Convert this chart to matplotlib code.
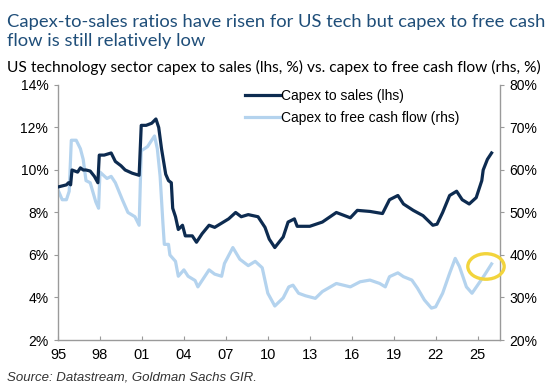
import matplotlib.pyplot as plt
from matplotlib.patches import Ellipse

# Datos (año decimal, %)
anios_ventas = [1995.0, 1995.3, 1995.6, 1995.75, 1995.9, 1996.0, 1996.4, 1996.6, 1996.8, 1997.0,
                1997.3, 1997.6, 1997.85, 1997.95, 1998.3, 1998.8, 1999.1, 1999.5, 1999.8, 2000.3,
                2000.8, 2000.95, 2001.3, 2001.7, 2002.0, 2002.2, 2002.4, 2002.7, 2002.9, 2003.1,
                2003.2, 2003.4, 2003.6, 2003.9, 2004.1, 2004.6, 2004.9, 2005.3, 2005.8, 2006.2,
                2006.7, 2007.2, 2007.7, 2008.1, 2008.6, 2009.3, 2009.8, 2010.1, 2010.5, 2011.1,
                2011.45, 2011.9, 2012.1, 2013.0, 2013.9, 2014.9, 2015.9, 2016.4, 2017.3, 2018.2,
                2018.7, 2019.3, 2019.7, 2020.4, 2021.1, 2021.8, 2022.1, 2022.5, 2023.0, 2023.5,
                2023.9, 2024.4, 2024.9, 2025.3, 2025.4, 2025.7, 2026.0]
capex_ventas = [9.2, 9.25, 9.3, 9.4, 9.3, 10.0, 9.9, 10.1, 10.0, 10.0,
                9.95, 9.7, 9.4, 10.7, 10.7, 10.8, 10.4, 10.2, 10.0, 9.85,
                9.75, 12.1, 12.1, 12.2, 12.4, 12.0, 11.0, 9.8, 9.5, 9.4,
                8.2, 7.8, 7.2, 7.4, 6.9, 6.9, 6.6, 7.0, 7.4, 7.3,
                7.5, 7.7, 8.0, 7.8, 7.9, 7.8, 7.3, 6.75, 6.35, 6.85,
                7.55, 7.7, 7.35, 7.35, 7.55, 8.0, 7.75, 8.1, 8.05, 7.95,
                8.6, 8.8, 8.4, 8.1, 7.85, 7.4, 7.45, 8.0, 8.8, 9.0,
                8.6, 8.4, 8.7, 9.5, 10.0, 10.5, 10.8]

anios_fcf = [1995.0, 1995.3, 1995.6, 1995.8, 1995.95, 1996.3, 1996.6, 1996.8, 1997.0, 1997.3,
             1997.7, 1997.9, 1998.0, 1998.5, 1998.8, 1999.1, 1999.6, 2000.0, 2000.5, 2000.8,
             2000.95, 2001.4, 2001.9, 2002.1, 2002.3, 2002.5, 2002.6, 2002.9, 2003.0, 2003.4,
             2003.6, 2004.0, 2004.3, 2004.8, 2005.0, 2005.4, 2005.8, 2006.2, 2006.7, 2006.9,
             2007.5, 2008.0, 2008.6, 2009.1, 2009.6, 2010.0, 2010.5, 2011.1, 2011.5, 2011.8,
             2012.2, 2012.7, 2013.4, 2013.9, 2014.9, 2015.9, 2016.6, 2017.3, 2018.0, 2018.4,
             2018.7, 2019.3, 2019.7, 2020.3, 2020.7, 2021.2, 2021.7, 2022.0, 2022.5, 2023.0,
             2023.4, 2023.7, 2024.2, 2024.6, 2025.0, 2025.5, 2026.0]
capex_fcf = [55.3, 53.0, 53.0, 55.0, 67.0, 67.0, 65.0, 62.5, 57.5, 57.0,
             52.5, 51.0, 59.5, 58.0, 58.5, 57.0, 53.0, 50.0, 49.0, 47.0,
             64.5, 65.5, 68.0, 65.0, 58.5, 47.5, 42.5, 42.5, 40.0, 38.5,
             35.0, 36.5, 35.0, 34.0, 32.5, 34.5, 36.5, 35.5, 35.0, 38.0,
             41.75, 39.0, 37.5, 38.5, 37.0, 31.0, 28.0, 29.9, 32.5, 32.9,
             31.0, 30.4, 29.8, 31.4, 33.3, 32.5, 33.7, 34.1, 33.3, 32.5,
             34.9, 35.8, 34.9, 34.1, 32.2, 29.4, 27.5, 27.8, 31.0, 35.7,
             39.2, 37.3, 32.5, 31.0, 32.9, 35.3, 37.9]

ticks_anios = [1995, 1998, 2001, 2004, 2007, 2010, 2013, 2016, 2019, 2022, 2025]
etiquetas_anios = ['95', '98', '01', '04', '07', '10', '13', '16', '19', '22', '25']

azul_oscuro = '#0d2b50'
azul_claro = '#b4d3ee'
gris = '#9a9a9a'

plt.rcParams['font.family'] = ['Liberation Sans', 'DejaVu Sans']

fig = plt.figure(figsize=(5.51, 3.88), dpi=100)
ax = fig.add_axes([0.1053, 0.1237, 0.8021, 0.6573])
ax2 = ax.twinx()

ax.plot(anios_ventas, capex_ventas, color=azul_oscuro, linewidth=2.3, zorder=3,
        label='Capex to sales (lhs)')
ax2.plot(anios_fcf, capex_fcf, color=azul_claro, linewidth=2.3,
         label='Capex to free cash flow (rhs)')
ax.set_zorder(ax2.get_zorder() + 1)
ax.patch.set_visible(False)

ax.set_xlim(1995, 2026.6)
ax.set_ylim(2, 14)
ax2.set_ylim(20, 80)
ax.set_yticks(range(2, 15, 2))
ax.set_yticklabels([f'{v}%' for v in range(2, 15, 2)])
ax2.set_yticks(range(20, 81, 10))
ax2.set_yticklabels([f'{v}%' for v in range(20, 81, 10)])
ax.set_xticks(ticks_anios)
ax.set_xticklabels(etiquetas_anios)

for a in (ax, ax2):
    a.spines['top'].set_visible(False)
    for s in ('left', 'right', 'bottom'):
        a.spines[s].set_color(gris)
        a.spines[s].set_linewidth(1.0)
ax.spines['right'].set_visible(False)
ax2.spines['left'].set_visible(False)
ax2.spines['bottom'].set_visible(False)

ax.tick_params(axis='x', direction='in', length=3, color=gris, labelsize=10.5, pad=6)
ax.tick_params(axis='y', direction='out', length=3, color=gris, labelsize=10, pad=4)
ax2.tick_params(axis='y', direction='out', length=3, color=gris, labelsize=10, pad=4)

# Círculo amarillo
ax2.add_patch(Ellipse((2025.6, 37.3), 2.6, 6.0, fill=False, edgecolor='#f2d43c',
                      linewidth=2.4, zorder=5, clip_on=False))

h1, l1 = ax.get_legend_handles_labels()
h2, l2 = ax2.get_legend_handles_labels()
ax.legend(h1 + h2, l1 + l2, loc='upper left', bbox_to_anchor=(0.395, 1.035), frameon=False,
          fontsize=10, handlelength=2.6, handletextpad=0.0, labelspacing=0.6)

fig.text(0.012, 0.965, 'Capex-to-sales ratios have risen for US tech but capex to free cash\n'
         'flow is still relatively low', color='#1f4e79', fontsize=13.2,
         family=['Lato', 'DejaVu Sans'], va='top', linespacing=1.3)
fig.text(0.012, 0.845, 'US technology sector capex to sales (lhs, %) vs. capex to free cash flow (rhs, %)',
         color='black', fontsize=11.2, family=['Lato', 'DejaVu Sans'], va='top')
fig.text(0.012, 0.012, 'Source: Datastream, Goldman Sachs GIR.', color='#333333',
         fontsize=9.5, style='italic', va='bottom')

fig.savefig('out.png', dpi=100)
